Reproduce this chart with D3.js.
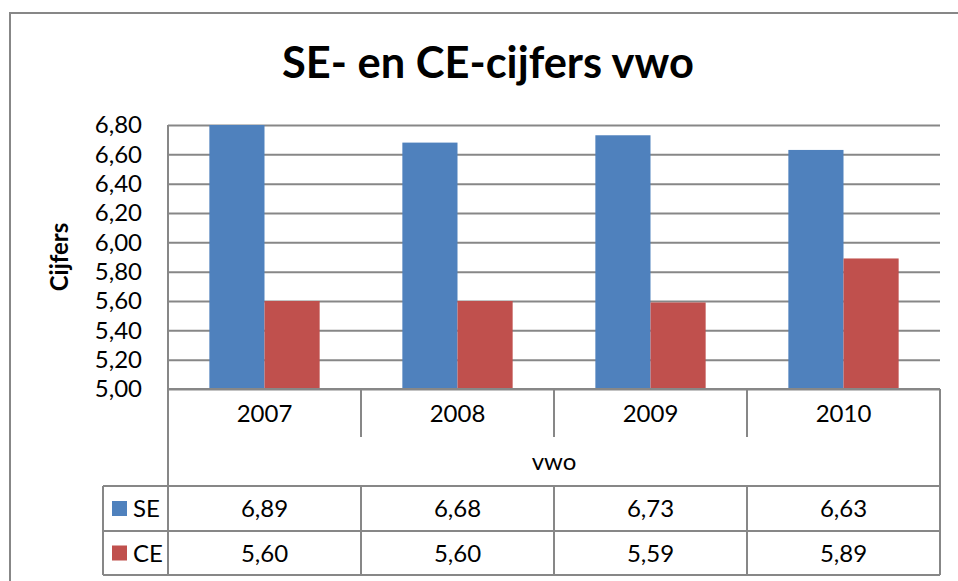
<!DOCTYPE html>
<html>
<head>
<meta charset="utf-8">
<script src="https://cdn.jsdelivr.net/npm/d3@7"></script>
<style>
  body { margin: 0; background: #fff; }
  text { font-family: Lato, "Open Sans", sans-serif; fill: #000; }
</style>
</head>
<body>
<div id="chart"></div>
<script>
// data
const years = ["2007", "2008", "2009", "2010"];
const series = ["SE", "CE"];
const seValues = [6.89, 6.68, 6.73, 6.63];
const ceValues = [5.60, 5.60, 5.59, 5.89];
const yTicks = [5.0, 5.2, 5.4, 5.6, 5.8, 6.0, 6.2, 6.4, 6.6, 6.8];
const colors = { SE: "#4F81BD", CE: "#C0504D" };

const W = 958, H = 581;
const plot = { left: 168, right: 940, top: 125, bottom: 389 };
const rows = { cat: 437, vwo: 486, se: 531, ce: 575 };
const legendLeft = 103;
const lineCol = "#878787";
const fs = 24;
const fmt = v => d3.format(".2f")(v).replace(".", ",");

const svg = d3.select("#chart").append("svg")
  .attr("width", W)
  .attr("height", H);

// outer chart border (runs off the right and bottom edges)
svg.append("rect")
  .attr("x", 10).attr("y", 13)
  .attr("width", 1000).attr("height", 700)
  .attr("fill", "none")
  .attr("stroke", lineCol)
  .attr("stroke-width", 2);

// title, fitted to the width seen in the picture
const title = svg.append("text")
  .attr("x", 488)
  .attr("y", 78)
  .attr("text-anchor", "middle")
  .attr("font-weight", "bold")
  .attr("font-size", 40)
  .text("SE- en CE-cijfers vwo");
const tw = title.node().getComputedTextLength();
title.attr("font-size", 40 * 412 / tw);

// scales
const x = d3.scaleBand().domain(years).range([plot.left, plot.right]);
const x1 = d3.scaleBand().domain(series).range([0, x.bandwidth()])
  .paddingInner(0).paddingOuter(0.75);
const y = d3.scaleLinear().domain([5, 6.8]).range([plot.bottom, plot.top]);

// gridlines + tick labels
const yAxis = svg.append("g")
  .attr("transform", "translate(" + plot.left + ",0)")
  .call(d3.axisLeft(y)
    .tickValues(yTicks)
    .tickSizeInner(-(plot.right - plot.left))
    .tickSizeOuter(0)
    .tickPadding(26)
    .tickFormat(fmt));
yAxis.select(".domain").remove();
yAxis.selectAll(".tick line").attr("stroke", lineCol).attr("stroke-width", 2);
yAxis.selectAll(".tick text")
  .attr("font-size", fs)
  .attr("font-family", "Lato, sans-serif")
  .attr("fill", "#000");

// y axis title
svg.append("text")
  .attr("transform", "translate(68," + (plot.top + plot.bottom) / 2 + ") rotate(-90)")
  .attr("text-anchor", "middle")
  .attr("font-weight", "bold")
  .attr("font-size", fs)
  .text("Cijfers");

// bars, clipped to the plot area
svg.append("clipPath").attr("id", "plotclip")
  .append("rect")
  .attr("x", plot.left).attr("y", plot.top)
  .attr("width", plot.right - plot.left)
  .attr("height", plot.bottom - plot.top);

const barData = [];
years.forEach((yr, i) => {
  barData.push({ year: yr, key: "SE", value: seValues[i] });
  barData.push({ year: yr, key: "CE", value: ceValues[i] });
});

svg.append("g").attr("clip-path", "url(#plotclip)")
  .selectAll("rect")
  .data(barData)
  .join("rect")
  .attr("x", d => x(d.year) + x1(d.key))
  .attr("y", d => y(d.value))
  .attr("width", x1.bandwidth())
  .attr("height", d => y(5) - y(d.value))
  .attr("fill", d => colors[d.key]);

// data table lines
const lines = svg.append("g")
  .attr("stroke", lineCol)
  .attr("stroke-width", 2);
lines.append("line")
  .attr("x1", plot.left).attr("x2", plot.left)
  .attr("y1", plot.top).attr("y2", rows.ce);
lines.append("line")
  .attr("x1", plot.right).attr("x2", plot.right)
  .attr("y1", plot.bottom).attr("y2", rows.ce);
lines.append("line")
  .attr("x1", plot.left).attr("x2", plot.right)
  .attr("y1", plot.bottom).attr("y2", plot.bottom);
lines.selectAll(".sep1")
  .data(years.slice(1))
  .join("line")
  .attr("x1", d => x(d)).attr("x2", d => x(d))
  .attr("y1", plot.bottom).attr("y2", rows.cat);
lines.selectAll(".sep2")
  .data(years.slice(1))
  .join("line")
  .attr("x1", d => x(d)).attr("x2", d => x(d))
  .attr("y1", rows.vwo).attr("y2", rows.ce);
lines.append("line")
  .attr("x1", legendLeft).attr("x2", legendLeft)
  .attr("y1", rows.vwo).attr("y2", rows.ce);
[rows.vwo, rows.se, rows.ce].forEach(yy => {
  lines.append("line")
    .attr("x1", legendLeft).attr("x2", plot.right)
    .attr("y1", yy).attr("y2", yy);
});

// category labels
svg.append("g").selectAll("text")
  .data(years)
  .join("text")
  .attr("x", d => x(d) + x.bandwidth() / 2)
  .attr("y", (plot.bottom + rows.cat) / 2)
  .attr("dy", "0.36em")
  .attr("text-anchor", "middle")
  .attr("font-size", fs)
  .text(d => d);

svg.append("text")
  .attr("x", (plot.left + plot.right) / 2)
  .attr("y", (rows.cat + rows.vwo) / 2)
  .attr("dy", "0.36em")
  .attr("text-anchor", "middle")
  .attr("font-size", fs)
  .text("vwo");

// table rows
const tableRows = [
  { key: "SE", values: seValues, top: rows.vwo, bottom: rows.se },
  { key: "CE", values: ceValues, top: rows.se, bottom: rows.ce }
];
tableRows.forEach(r => {
  const cy = (r.top + r.bottom) / 2;
  svg.append("rect")
    .attr("x", 112).attr("y", cy - 7.5)
    .attr("width", 15).attr("height", 15)
    .attr("fill", colors[r.key]);
  svg.append("text")
    .attr("x", 133).attr("y", cy)
    .attr("dy", "0.36em")
    .attr("font-size", fs)
    .text(r.key);
  svg.append("g").selectAll("text")
    .data(r.values)
    .join("text")
    .attr("x", (d, i) => x(years[i]) + x.bandwidth() / 2)
    .attr("y", cy)
    .attr("dy", "0.36em")
    .attr("text-anchor", "middle")
    .attr("font-size", fs)
    .text(d => fmt(d));
});
</script>
</body>
</html>
